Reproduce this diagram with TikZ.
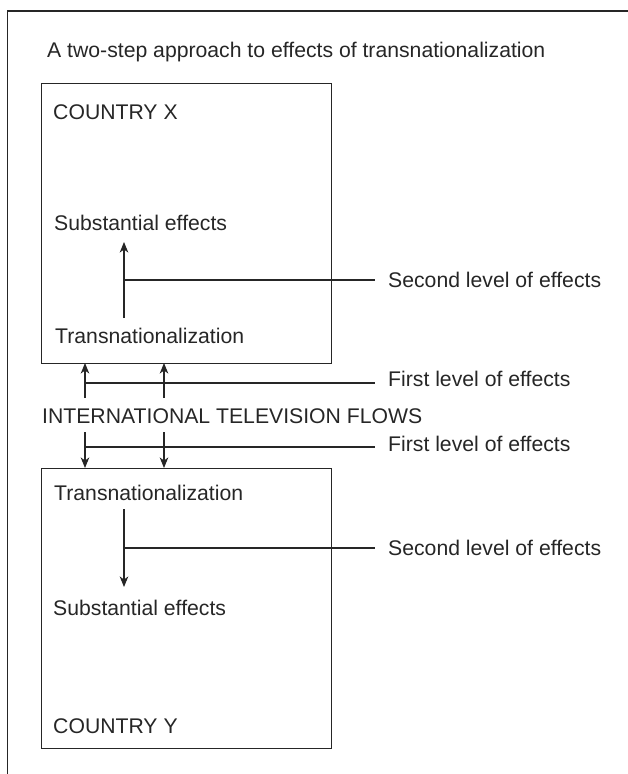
\documentclass[tikz,border=0pt]{standalone}
\usepackage{fontspec}
\setmainfont{Liberation Sans}
\usetikzlibrary{arrows.meta}
\definecolor{ink}{HTML}{262626}
\begin{document}
\begin{tikzpicture}[x=1pt,y=-1pt,
  every node/.style={text=ink},
  lbl/.style={anchor=base west,inner sep=0pt,font=\fontsize{21.2}{25}\selectfont},
  boxstyle/.style={draw=ink,line width=1.2pt,rectangle,anchor=north west,inner sep=0pt},
  conn/.style={draw=ink,line width=1.2pt},
  arr/.style={conn,-{Stealth[length=10.5pt,width=8.5pt,inset=3pt]}},
  framestyle/.style={draw=ink,line width=1.4pt}]
\useasboundingbox (0,0) rectangle (628,774);
% outer frame (open on right and bottom)
\coordinate (fbl) at (7.5,774);
\coordinate (ftl) at (7.5,11);
\coordinate (ftr) at (628,11);
\draw[framestyle] (fbl) -- (ftl) -- (ftr);

\node[lbl] (title) at (47,57) {A two-step approach to effects of transnationalization};

% boxes
\node[boxstyle,minimum width=290pt,minimum height=280pt] (boxX) at (41,83) {};
\node[boxstyle,minimum width=290pt,minimum height=280pt] (boxY) at (41,468) {};

% box X contents
\node[lbl] (cx) at (53,119) {COUNTRY X};
\node[lbl] (subX) at (54,230) {Substantial effects};
\node[lbl] (trX) at (55,343) {Transnationalization};
\coordinate (aXs) at (124,318);
\coordinate (aXe) at (124,242);
\draw[arr] (aXs) -- (aXe);
\coordinate (bX) at (124,280);
\coordinate (bXe) at (375,280);
\draw[conn] (bX) -- (bXe);
\node[lbl] (secX) at (388,287) {Second level of effects};

% flows
\node[lbl] (itf) at (42,423) {INTERNATIONAL TELEVISION FLOWS};
\coordinate (u1s) at (85,398);
\coordinate (u2s) at (164,398);
\coordinate (u1e) at (85,363);
\coordinate (u2e) at (164,363);
\draw[arr] (u1s) -- (u1e);
\draw[arr] (u2s) -- (u2e);
\coordinate (hu1) at (85,383);
\coordinate (hu2) at (375,383);
\draw[conn] (hu1) -- (hu2);
\node[lbl] (firstU) at (388,386) {First level of effects};

\coordinate (d1s) at (85,432);
\coordinate (d2s) at (164,432);
\coordinate (d1e) at (85,468);
\coordinate (d2e) at (164,468);
\draw[arr] (d1s) -- (d1e);
\draw[arr] (d2s) -- (d2e);
\coordinate (hd1) at (85,447);
\coordinate (hd2) at (375,447);
\draw[conn] (hd1) -- (hd2);
\node[lbl] (firstD) at (388,451) {First level of effects};

% box Y contents
\node[lbl] (trY) at (54,500) {Transnationalization};
\node[lbl] (subY) at (53,615) {Substantial effects};
\node[lbl] (cy) at (53,733) {COUNTRY Y};
\coordinate (aYs) at (124,509);
\coordinate (aYe) at (124,587);
\draw[arr] (aYs) -- (aYe);
\coordinate (bY) at (124,548);
\coordinate (bYe) at (375,548);
\draw[conn] (bY) -- (bYe);
\node[lbl] (secY) at (388,555) {Second level of effects};
\end{tikzpicture}
\end{document}
